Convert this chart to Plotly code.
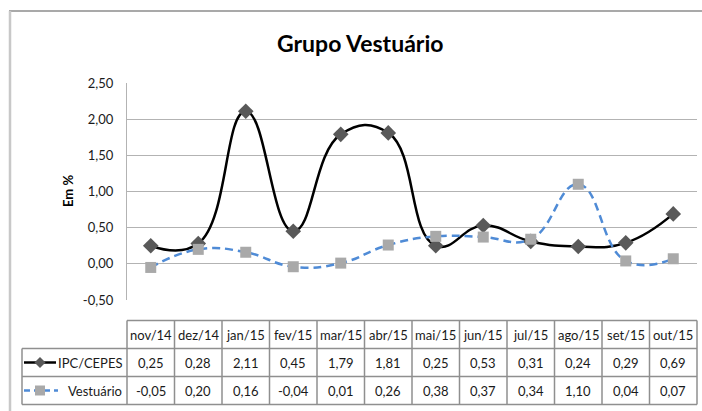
import plotly.graph_objects as go

# ---- data ----
categories = ["nov/14", "dez/14", "jan/15", "fev/15", "mar/15", "abr/15",
              "mai/15", "jun/15", "jul/15", "ago/15", "set/15", "out/15"]
ipc_cepes = [0.25, 0.28, 2.11, 0.45, 1.79, 1.81, 0.25, 0.53, 0.31, 0.24, 0.29, 0.69]
vestuario = [-0.05, 0.20, 0.16, -0.04, 0.01, 0.26, 0.38, 0.37, 0.34, 1.10, 0.04, 0.07]
series_names = ["IPC/CEPES", "Vestuário"]
y_tick_vals = [-0.5, 0.0, 0.5, 1.0, 1.5, 2.0, 2.5]
y_tick_text = ["-0,50", "0,00", "0,50", "1,00", "1,50", "2,00", "2,50"]
title_text = "Grupo Vestuário"
y_title = "Em %"

# ---- layout geometry (pixels) ----
W_FIG, H_FIG = 702, 411
L, R, T, B = 127, 697, 83, 300
PW, PH = R - L, B - T
FONT = "Lato, Liberation Sans, sans-serif"
BORDER = "#8f8f8f"
BLUE = "#4f8bd6"
TXT = "#1a1a1a"
DASH = "8px,5px"


def px_x(p):
    return (p - L) / PW


def px_y(p):
    return (B - p) / PH


def fmt(v):
    return f"{v:.2f}".replace(".", ",")


def hline(x0, x1, y, color=BORDER, width=1.5, dash="solid"):
    return dict(type="line", xref="paper", yref="paper", layer="above",
                x0=px_x(x0), x1=px_x(x1), y0=px_y(y), y1=px_y(y),
                line=dict(color=color, width=width, dash=dash))


def vline(x, y0, y1, color=BORDER, width=1.5):
    return dict(type="line", xref="paper", yref="paper", layer="above",
                x0=px_x(x), x1=px_x(x), y0=px_y(y0), y1=px_y(y1),
                line=dict(color=color, width=width))


fig = go.Figure()
fig.add_trace(go.Scatter(
    x=categories, y=ipc_cepes, name=series_names[0], mode="lines+markers",
    line=dict(color="black", width=2.5, shape="spline", smoothing=1.3),
    marker=dict(symbol="diamond", size=12, color="#595959"),
))
fig.add_trace(go.Scatter(
    x=categories, y=vestuario, name=series_names[1], mode="lines+markers",
    line=dict(color=BLUE, width=2.5, dash=DASH, shape="spline", smoothing=1.3),
    marker=dict(symbol="square", size=11, color="#a9a9a9"),
))

shapes = []
annotations = []

# table geometry
row_edges = [320.5, 348.5, 376.5, 404.5]
legend_left = 22
n = len(categories)
col_w = PW / n

shapes.append(hline(L, R, row_edges[0]))
for ry in row_edges[1:]:
    shapes.append(hline(legend_left, R, ry))
shapes.append(vline(legend_left, row_edges[1], row_edges[3]))
for k in range(n + 1):
    shapes.append(vline(L + k * col_w, row_edges[0], row_edges[3]))

row_centers = [(row_edges[i] + row_edges[i + 1]) / 2 for i in range(3)]

for i, c in enumerate(categories):
    for r, txt in enumerate([c, fmt(ipc_cepes[i]), fmt(vestuario[i])]):
        annotations.append(dict(x=c, xref="x", yref="paper", y=px_y(row_centers[r]),
                                xanchor="center", yanchor="middle",
                                text=txt, showarrow=False,
                                font=dict(family=FONT, size=13, color=TXT)))

# legend keys in the table
for j, name in enumerate(series_names):
    annotations.append(dict(x=px_x(124), xref="paper", xanchor="right", yref="paper",
                            y=px_y(row_centers[j + 1]), yanchor="middle",
                            text=name, showarrow=False,
                            font=dict(family=FONT, size=13, color=TXT)))
k_x0, k_x1, k_xm = 24, 56, 40
cy1 = row_centers[1]
shapes.append(hline(k_x0, k_x1, cy1, color="black", width=2.5))
shapes.append(dict(type="path", xref="paper", yref="paper",
                   path=(f"M {px_x(k_xm - 5.5)} {px_y(cy1)} L {px_x(k_xm)} {px_y(cy1 - 5.5)} "
                         f"L {px_x(k_xm + 5.5)} {px_y(cy1)} L {px_x(k_xm)} {px_y(cy1 + 5.5)} Z"),
                   fillcolor="#595959", line=dict(width=0)))
cy2 = row_centers[2]
shapes.append(hline(k_x0, k_x1 + 2, cy2, color=BLUE, width=2.5, dash="6px,4px"))
shapes.append(dict(type="rect", xref="paper", yref="paper",
                   x0=px_x(k_xm - 5), x1=px_x(k_xm + 5), y0=px_y(cy2 + 5), y1=px_y(cy2 - 5),
                   fillcolor="#a9a9a9", line=dict(width=0)))

# outer frame (top and left edges visible)
shapes.append(hline(9, W_FIG + 2, 11, color="#8c8c8c", width=1.5))
shapes.append(vline(10, 11, H_FIG + 2, color="#c8c8c8", width=2.5))

# title and y-axis title
annotations.append(dict(x=px_x(360), y=px_y(43), xref="paper", yref="paper",
                        xanchor="center", yanchor="middle",
                        text=f"<b>{title_text}</b>", showarrow=False,
                        font=dict(family=FONT, size=23, color="black")))
annotations.append(dict(x=px_x(68), y=px_y(191), xref="paper", yref="paper",
                        xanchor="center", yanchor="middle",
                        text=f"<b>{y_title}</b>", textangle=-90, showarrow=False,
                        font=dict(family=FONT, size=13, color="black")))

fig.update_layout(
    width=W_FIG, height=H_FIG,
    margin=dict(l=L, r=W_FIG - R, t=T, b=H_FIG - B, pad=0),
    paper_bgcolor="white", plot_bgcolor="white",
    showlegend=False,
    shapes=shapes, annotations=annotations,
    font=dict(family=FONT, size=13, color=TXT),
    xaxis=dict(type="category", range=[-0.5, n - 0.5], showticklabels=False,
               showgrid=False, zeroline=False, showline=False, fixedrange=True),
    yaxis=dict(range=[-0.5, 2.5], tickvals=y_tick_vals, ticktext=y_tick_text,
               showgrid=True, gridcolor="#b3b3b3", gridwidth=1.3,
               zeroline=False, showline=True, linecolor="#b3b3b3", linewidth=1.3,
               ticks="", ticklabelstandoff=10,
               tickfont=dict(family=FONT, size=13, color=TXT), fixedrange=True),
)

fig.write_html("out.html", config={"displayModeBar": False},
               post_script="document.body.style.margin='0px';document.body.style.overflow='hidden';")
